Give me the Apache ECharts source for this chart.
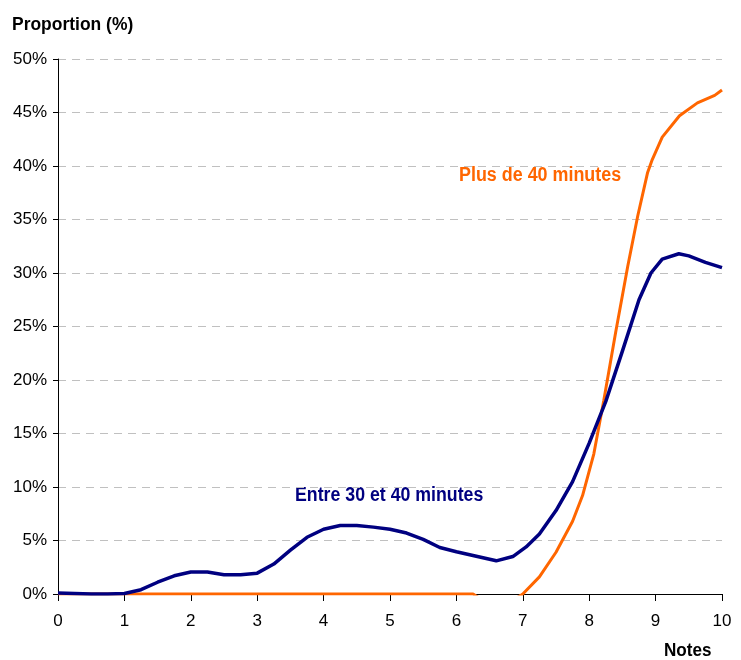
<!DOCTYPE html>
<html><head><meta charset="utf-8">
<script src="https://cdn.jsdelivr.net/npm/echarts@6/dist/echarts.min.js"></script>
<style>html,body{margin:0;padding:0;background:#fff}#c{width:741px;height:660px}</style>
</head><body><div id="c"></div>
<script>
var xTicks = [0,1,2,3,4,5,6,7,8,9,10];
var yTicks = [0,5,10,15,20,25,30,35,40,45,50];
var entreX = [0,0.25,0.5,0.75,1.0,1.25,1.5,1.75,2.0,2.25,2.5,2.75,3.0,3.25,3.5,3.75,4.0,4.25,4.5,4.75,5.0,5.25,5.5,5.75,6.0,6.25,6.6,6.85,7.05,7.25,7.5,7.75,8.0,8.25,8.5,8.75,8.93,9.1,9.35,9.5,9.75,10];
var entreY = [0.1,0.05,0,0,0.05,0.4,1.1,1.7,2.05,2.05,1.8,1.8,1.95,2.8,4.1,5.3,6.05,6.4,6.4,6.25,6.05,5.7,5.1,4.35,3.95,3.6,3.1,3.5,4.4,5.6,7.8,10.5,14.1,18.0,22.7,27.5,30.0,31.3,31.8,31.6,31.0,30.5];
var plusX = [0,0.25,0.5,0.75,1.0,1.25,1.5,1.75,2.0,2.25,2.5,2.75,3.0,3.25,3.5,3.75,4.0,4.25,4.5,4.75,5.0,5.25,5.5,5.75,6.0,6.25,6.5,6.75,7.0,7.25,7.5,7.75,7.9,8.07,8.22,8.4,8.58,8.73,8.88,8.95,9.1,9.36,9.63,9.89,10];
var plusY = [0,0,0,0,0,0,0,0,0,0,0,0,0,0,0,0,0,0,0,0,0,0,0,0,0,0,-1,-1,0,1.6,3.9,6.8,9.2,13.1,18.1,24.5,30.6,35.3,39.4,40.6,42.7,44.7,45.9,46.6,47.1];
var seriesNames = ['Plus de 40 minutes','Entre 30 et 40 minutes'];
var axisNames = ['Proportion (%)','Notes'];

function pairs(xs, ys){ return xs.map(function(x,i){ return [x, ys[i]]; }); }
var FONT = '"Liberation Sans",Arial,sans-serif';
var chart = echarts.init(document.getElementById('c'), null, {renderer:'canvas'});
chart.setOption({
  animation:false,
  backgroundColor:'#fff',
  grid:{left:58,right:19,top:59,bottom:66,containLabel:false},
  xAxis:{type:'value',min:xTicks[0],max:xTicks[xTicks.length-1],interval:1,
    axisLine:{show:true,lineStyle:{color:'#000',width:1}},
    axisTick:{show:true,length:7,lineStyle:{color:'#000'}},
    axisLabel:{margin:19,color:'#000',fontSize:17,fontFamily:FONT},
    splitLine:{show:false}},
  yAxis:{type:'value',min:yTicks[0],max:yTicks[yTicks.length-1],interval:5,
    axisLine:{show:true,lineStyle:{color:'#000',width:1}},
    axisTick:{show:true,length:5,lineStyle:{color:'#000'}},
    axisLabel:{margin:11,color:'#000',fontSize:17,fontFamily:FONT,formatter:'{value}%'},
    splitLine:{show:true,lineStyle:{color:'#c0c0c0',type:[8,6],width:1}}},
  series:[
    {name:seriesNames[0],type:'line',data:pairs(plusX,plusY),showSymbol:false,smooth:false,clip:true,
     lineStyle:{color:'#FF6600',width:3},itemStyle:{color:'#FF6600'},z:2},
    {name:seriesNames[1],type:'line',data:pairs(entreX,entreY),showSymbol:false,smooth:false,clip:true,
     lineStyle:{color:'#000080',width:3.5},itemStyle:{color:'#000080'},z:3}
  ],
  graphic:[
    {type:'text',x:12,y:16,scaleX:0.97,style:{text:axisNames[0],font:'bold 18px '+FONT,fill:'#000'}},
    {type:'text',x:664,y:642,scaleX:0.95,style:{text:axisNames[1],font:'bold 18px '+FONT,fill:'#000'}},
    {type:'text',x:459,y:165,scaleX:0.895,style:{text:seriesNames[0],font:'bold 20px '+FONT,fill:'#FF6600'}},
    {type:'text',x:295,y:485,scaleX:0.887,style:{text:seriesNames[1],font:'bold 20px '+FONT,fill:'#000080'}}
  ]
});
</script></body></html>
